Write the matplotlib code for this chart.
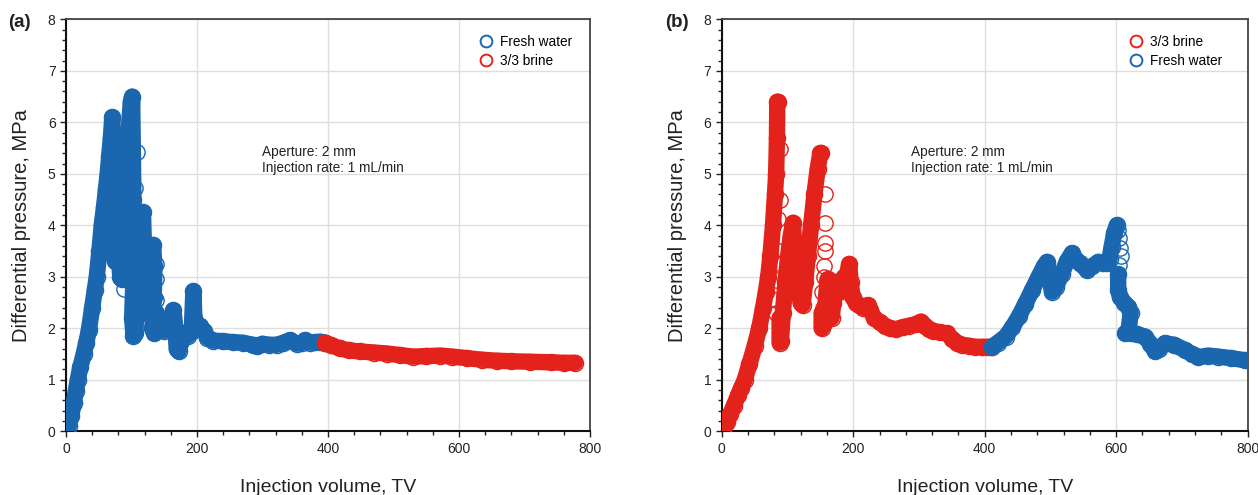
import numpy as np
import matplotlib
matplotlib.use("Agg")
import matplotlib.pyplot as plt
from matplotlib.lines import Line2D
from matplotlib.ticker import MultipleLocator

plt.rcParams['font.family'] = ['Liberation Sans', 'DejaVu Sans']

NA = np.nan

# ---------------- Panel (a) ----------------
a_fw_x = [0, 4, 8, 12, 15, 18, 22, 27, 31, 35, 40, 44, 47, 51, 54.5, 58, 61, 63.6, 66, 68.5, 70.7,
          72, 73.5, 75, 77, 79, 80, 81, 83, 85, 87, 90, 93, 96, 99, 101,
          103, 103, 101, 103, 106, 108, 106, 109, 112, 115, 117.5, 119, 118, 120, 122, 125, 124, 127, 130, 133,
          135, 134, 132, 135, 138, 140, 145, 150, 155, 160, 164, 167, 169, 172, 176, 180, 186, 192, 194.5, 196,
          200, 205, 210, 216, 225, 240, 255, 270, 285, 292, 300, 310, 322, 332, 342, 352, 360, 365,
          372, 380, 388, 396]
a_fw_y = [0.02, 0.1, 0.3, 0.55, 0.78, 1.0, 1.25, 1.5, 1.72, 1.97, 2.4, 2.75, 3.0, 3.5, 4.0, 4.35, 4.7, 5.0, 5.35, 5.7, 6.1,
          4.8, 3.4, 3.3, 4.2, 4.9, 4.3, 3.3, 3.0, 2.95, 3.6, 4.4, 5.2, 5.9, 6.4, 6.5,
          4.5, 3.0, 2.2, 1.85, 1.9, 2.6, 3.0, 3.3, 3.7, 4.1, 4.25, 3.6, 2.9, 2.4, 2.3, 2.6, 3.1, 3.3, 3.5, 3.62,
          3.2, 2.6, 2.0, 1.9, 2.3, 2.1, 2.05, 1.95, 2.15, 2.1, 2.35, 2.0, 1.6, 1.55, 1.75, 1.9, 1.85, 1.95, 2.72, 2.2,
          2.05, 2.05, 1.95, 1.82, 1.76, 1.75, 1.73, 1.72, 1.68, 1.65, 1.7, 1.68, 1.68, 1.72, 1.77, 1.7, 1.72, 1.77,
          1.72, 1.73, 1.74, 1.72]
a_fw_sparse_x = [107.9, 105.3, 87, 89, 138, 138, 137, 139]
a_fw_sparse_y = [5.43, 4.72, 2.97, 2.77, 3.25, 2.95, 2.55, 2.2]

a_br_x = [396, 405, 418, 432, 449, 470, 490, 510, 530, 550, 571, 590, 612, 635, 658, 680, 709, 740, 760, 777]
a_br_y = [1.72, 1.67, 1.61, 1.57, 1.55, 1.53, 1.51, 1.48, 1.45, 1.46, 1.47, 1.45, 1.42, 1.39, 1.37, 1.36, 1.35,
          1.34, 1.33, 1.33]

# ---------------- Panel (b) ----------------
b_br_x = [0, 4, 8, 13, 18.5, 25, 30, 35, 42, 50, 57, 63, 67, 70.7, 74, 78, 81, 82.8, 84, 84.5, 85.5, NA,
          88, 88, 90, 93, 97, 101, 105, 108.5, 110, 111, 114, 117, 120, 123, 127, 131, 136, 141, 146, 150, 151.5, NA,
          152, 152, 155, 158, 161, 164, 167, 170, 174, 178, 182, 186, 190, 194, 196, 199, 204, 209, 215, 222,
          226, 232, 240, 248, 256, 265, 275, 285, 295, 303, 309, 315, 322, 332, 343, 350, 358, 366, 376, 386,
          396, 404, 410]
b_br_y = [0.0, 0.08, 0.18, 0.33, 0.5, 0.7, 0.85, 1.0, 1.3, 1.65, 2.0, 2.4, 2.7, 3.0, 3.4, 4.0, 4.6, 5.0, 5.7, 6.4, 6.4, NA,
          2.2, 1.72, 1.75, 2.3, 2.9, 3.4, 3.8, 4.05, 3.6, 3.3, 3.2, 2.8, 2.5, 2.45, 2.9, 3.4, 4.0, 4.6, 5.1, 5.4, 5.4, NA,
          2.3, 2.0, 2.1, 2.5, 2.95, 2.6, 2.2, 2.5, 2.9, 2.7, 2.85, 3.0, 3.0, 3.25, 2.9, 2.6, 2.5, 2.45, 2.4, 2.45,
          2.35, 2.2, 2.12, 2.05, 2.0, 1.98, 2.02, 2.05, 2.08, 2.13, 2.05, 1.98, 1.95, 1.92, 1.9, 1.8, 1.72, 1.68,
          1.66, 1.64, 1.64, 1.64, 1.64]
b_br_sparse_x = [88.3, 88.3, 85.8, 83.3, 83.3, 83.3, 83.3, 83.3, 156.5, 156.5, 156.5, 156.5, 155, 155, 153, 154]
b_br_sparse_y = [5.49, 4.49, 4.13, 3.52, 3.26, 2.94, 2.55, 2.29, 4.6, 4.05, 3.65, 3.5, 3.2, 3.0, 2.7, 2.4]

b_fw_x = [411, 420, 432, 442, 452, 462, 472, 482, 490, 494.8, 498, 502.4, 508, 517, 525, 532.7, 538, 545, 555.5,
          563, 573, 580, 585.8, 590, 593, 597, 601, NA,
          603, 603, 606, 612, 618.6, 622, 619, 614, 622, 632, 644, 652, 659, 665, 674, 688, 704.5, 715, 724.7, 740,
          755, 775, 795.5]
b_fw_y = [1.64, 1.72, 1.84, 2.02, 2.23, 2.48, 2.74, 3.0, 3.2, 3.29, 3.0, 2.71, 2.8, 3.05, 3.3, 3.46, 3.35, 3.26, 3.13,
          3.2, 3.29, 3.27, 3.26, 3.35, 3.58, 3.85, 4.0, NA,
          3.05, 2.75, 2.6, 2.5, 2.42, 2.3, 1.97, 1.9, 1.9, 1.88, 1.84, 1.7, 1.55, 1.6, 1.71, 1.68, 1.58, 1.5, 1.44, 1.47,
          1.45, 1.42, 1.38]
b_fw_sparse_x = [603, 605, 606, 607, 605]
b_fw_sparse_y = [3.9, 3.75, 3.55, 3.4, 3.22]

legend_a = ['Fresh water', '3/3 brine']
legend_b = ['3/3 brine', 'Fresh water']
note = 'Aperture: 2 mm\nInjection rate: 1 mL/min'

BLUE = '#1a67b0'
RED = '#e3221c'
LW = 11.8
MS = 11

fig = plt.figure(figsize=(12.58, 4.95), dpi=100)
ax_a = fig.add_axes([0.05246, 0.1287, 0.41653, 0.8323])
ax_b = fig.add_axes([0.5737, 0.1287, 0.4181, 0.8323])


def draw(ax, x, y, sx, sy, color):
    ax.plot(x, y, color=color, lw=LW, solid_capstyle='round', solid_joinstyle='round', zorder=3)
    ax.plot(x, y, ls='none', marker='o', mfc='none', mec=color, ms=MS + 0.6, mew=1.0, zorder=3)
    ax.plot(sx, sy, ls='none', marker='o', mfc='none', mec=color, ms=MS, mew=1.0, zorder=3)


def style(ax):
    ax.set_xlim(0, 800)
    ax.set_ylim(0, 8)
    ax.xaxis.set_major_locator(MultipleLocator(200))
    ax.xaxis.set_minor_locator(MultipleLocator(40))
    ax.yaxis.set_major_locator(MultipleLocator(1))
    ax.yaxis.set_minor_locator(MultipleLocator(0.2))
    ax.tick_params(which='both', direction='out', length=4, width=1, labelsize=10, colors='#222222')
    ax.tick_params(which='minor', length=3)
    ax.grid(True, which='major', color='#dedede', lw=1)
    ax.set_axisbelow(True)
    for s in ['left', 'bottom']:
        ax.spines[s].set_color('#111111')
        ax.spines[s].set_linewidth(1.5)
    for s in ['top', 'right']:
        ax.spines[s].set_color('#444444')
        ax.spines[s].set_linewidth(1.3)
    ax.set_xlabel('Injection volume, TV', fontsize=14, color='#222222', labelpad=17)
    ax.set_ylabel('Differential pressure, MPa', fontsize=14.5, color='#222222', labelpad=12)


draw(ax_a, a_fw_x, a_fw_y, a_fw_sparse_x, a_fw_sparse_y, BLUE)
draw(ax_a, a_br_x, a_br_y, [], [], RED)
draw(ax_b, b_br_x, b_br_y, b_br_sparse_x, b_br_sparse_y, RED)
draw(ax_b, b_fw_x, b_fw_y, b_fw_sparse_x, b_fw_sparse_y, BLUE)

for ax in (ax_a, ax_b):
    style(ax)


def leg(ax, labels, colors, xa):
    handles = [Line2D([], [], ls='none', marker='o', mfc='none', mec=c, ms=8.5, mew=1.4) for c in colors]
    ax.legend(handles, labels, loc='upper left', bbox_to_anchor=(xa, 0.962), frameon=False,
              fontsize=9.8, handlelength=1.0, handletextpad=0.5, labelspacing=0.35,
              borderpad=0, borderaxespad=0)


leg(ax_a, legend_a, [BLUE, RED], 0.789)
leg(ax_b, legend_b, [RED, BLUE], 0.775)

ax_a.text(299, 5.27, note, fontsize=9.8, va='center', ha='left', color='#222222', linespacing=1.25)
ax_b.text(288, 5.27, note, fontsize=9.8, va='center', ha='left', color='#222222', linespacing=1.25)

fig.text(0.0066, 0.954, '(a)', fontsize=13.5, fontweight='bold', color='#222222', va='center')
fig.text(0.529, 0.954, '(b)', fontsize=13.5, fontweight='bold', color='#222222', va='center')

fig.savefig('out.png', dpi=100)
